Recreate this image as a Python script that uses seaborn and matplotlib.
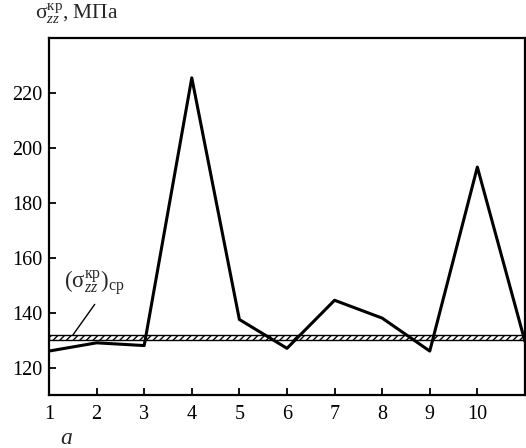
import numpy as np
import pandas as pd
import matplotlib
matplotlib.use('Agg')
import matplotlib.pyplot as plt
import seaborn as sns

sns.set_style("ticks")
plt.rcParams['font.family'] = ['Liberation Serif', 'DejaVu Serif']
plt.rcParams['mathtext.fontset'] = 'custom'
plt.rcParams['mathtext.rm'] = 'Liberation Serif'
plt.rcParams['mathtext.it'] = 'Liberation Serif:italic'
plt.rcParams['mathtext.bf'] = 'Liberation Serif:bold'
plt.rcParams['hatch.linewidth'] = 1.0

# data
a_values = [1, 2, 3, 4, 5, 6, 7, 8, 9, 10, 11]
sigma_kr = [126, 129, 128, 225.5, 137.5, 127, 144.5, 138, 126, 193, 129.5]
band_low = 130.0
band_high = 131.8
x_ticks = [1, 2, 3, 4, 5, 6, 7, 8, 9, 10]
y_ticks = [120, 140, 160, 180, 200, 220]

df = pd.DataFrame({'a': a_values, 'sigma': sigma_kr})

fig = plt.figure(figsize=(5.26, 4.48), dpi=100)
ax = fig.add_axes([49/526, 1 - 395/448, 1 - 49/526 - 0.002, (395 - 38)/448])

ax.axhspan(band_low, band_high, facecolor='white', edgecolor='black',
           hatch='/////', linewidth=1.0, zorder=1)
sns.lineplot(data=df, x='a', y='sigma', color='black', linewidth=2.2, ax=ax, zorder=3)

ax.set_xlim(1, 11)
ax.set_ylim(110, 240)
ax.set_xticks(x_ticks)
ax.set_yticks(y_ticks)
ax.tick_params(direction='in', length=5, width=1.3, labelsize=14.5, pad=7, colors='black')
ax.tick_params(axis='y', pad=5)
for s in ax.spines.values():
    s.set_linewidth(1.6)
    s.set_color('black')
ax.set_xlabel('')
ax.set_ylabel('')

fig.text(35/526, 1 - 14/448, r'$\mathrm{σ}_{zz}^{\mathrm{кр}}$, МПа', fontsize=15.5,
         va='center', ha='left')
fig.text(66/526, 1 - 438/448, 'a', fontsize=17, style='italic', va='center', ha='center')

# label of the mean band with leader line
ax.text(1.32, 151, r'$(\mathrm{σ}_{zz}^{\mathrm{кр}})_{\mathrm{ср}}$', fontsize=16.5,
        ha='left', va='center')
ax.annotate('', xy=(1.5, band_high), xytext=(1.96, 143),
            arrowprops=dict(arrowstyle='-', color='black', lw=1.0,
                            shrinkA=0, shrinkB=0))

fig.savefig('out.png', dpi=100)
